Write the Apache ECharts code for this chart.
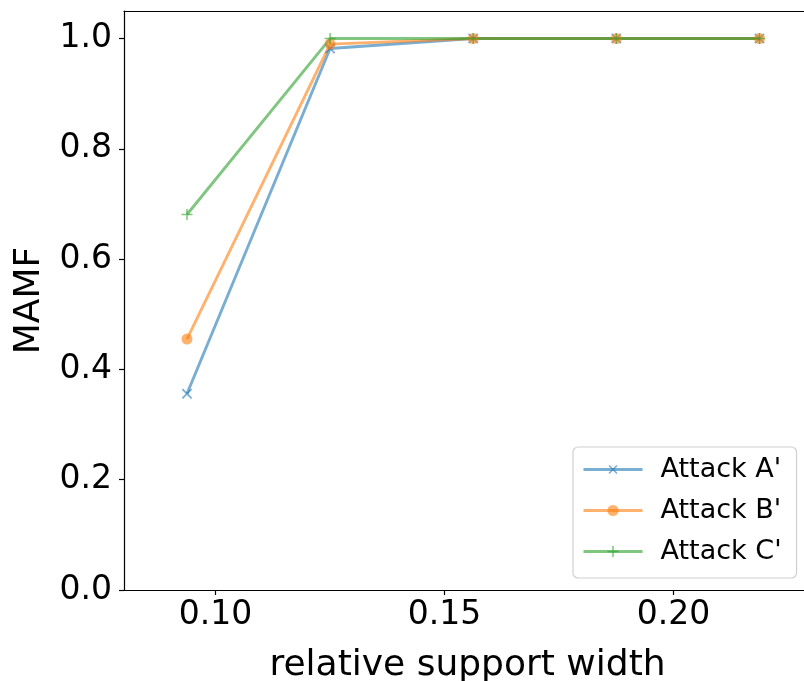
<!DOCTYPE html>
<html>
<head>
<meta charset="utf-8">
<script src="https://cdn.jsdelivr.net/npm/echarts@6/dist/echarts.min.js"></script>
<style>html,body{margin:0;padding:0;background:#fff;overflow:hidden;}#chart{width:804px;height:681px;}</style>
</head>
<body>
<div id="chart"></div>
<script>
// Data
const supportWidth = [0.09375, 0.125, 0.15625, 0.1875, 0.21875];
const attackA = [0.356, 0.982, 1.0, 1.0, 1.0];
const attackB = [0.455, 0.990, 1.0, 1.0, 1.0];
const attackC = [0.681, 1.0, 1.0, 1.0, 1.0];
const seriesNames = ["Attack A'", "Attack B'", "Attack C'"];
const xTicks = [0.10, 0.15, 0.20];
const yTicks = [0.0, 0.2, 0.4, 0.6, 0.8, 1.0];

const FONT = 'DejaVu Sans';
const colA = 'rgba(31,119,180,0.6)';
const colB = 'rgba(255,127,14,0.6)';
const colC = 'rgba(44,160,44,0.6)';
const plusPath = 'path://M4.3,0H5.7V4.3H10V5.7H5.7V10H4.3V5.7H0V4.3H4.3Z';

function pairs(ys) { return supportWidth.map((x, i) => [x, ys[i]]); }

function mkSeries(name, ys, color, symbol, size, rotate) {
  return {
    name: name, type: 'line', data: pairs(ys), xAxisIndex: 0,
    symbol: symbol, symbolSize: size, symbolRotate: rotate || 0,
    showAllSymbol: true,
    lineStyle: { color: color, width: 2.9 },
    itemStyle: { color: color, borderWidth: 0 },
    emphasis: { disabled: true },
    animation: false
  };
}

const chart = echarts.init(document.getElementById('chart'), null, { renderer: 'canvas' });
chart.setOption({
  backgroundColor: '#fff',
  animation: false,
  grid: { left: 124, top: 11, bottom: 91, width: 687, outerBoundsMode: 'none', containLabel: false, show: false },
  xAxis: [{
    type: 'value', min: 0.08, max: 0.23, position: 'bottom',
    name: 'relative support width', nameLocation: 'middle', nameGap: 58,
    nameTextStyle: { fontFamily: FONT, fontSize: 36, color: '#000', verticalAlign: 'top' },
    axisLine: { show: true, onZero: false, lineStyle: { color: '#000', width: 1.2 } },
    axisTick: { show: true, customValues: xTicks, length: 5, lineStyle: { color: '#000', width: 1.2 } },
    axisLabel: { customValues: xTicks, fontFamily: FONT, fontSize: 33, color: '#000', margin: 9,
      formatter: v => v.toFixed(2) },
    splitLine: { show: false }
  }, {
    type: 'value', min: 0.08, max: 0.23, position: 'top',
    axisLine: { show: true, onZero: false, lineStyle: { color: '#000', width: 1.2 } },
    axisTick: { show: false }, axisLabel: { show: false }, splitLine: { show: false }
  }],
  yAxis: {
    type: 'value', min: 0, max: 1.05,
    name: 'MAMF', nameLocation: 'middle', nameGap: 76,
    nameTextStyle: { fontFamily: FONT, fontSize: 36, color: '#000' },
    axisLine: { show: true, onZero: false, lineStyle: { color: '#000', width: 1.2 } },
    axisTick: { show: true, customValues: yTicks, length: 5, lineStyle: { color: '#000', width: 1.2 } },
    axisLabel: { customValues: yTicks, fontFamily: FONT, fontSize: 33, color: '#000', margin: 12,
      formatter: v => v.toFixed(1) },
    splitLine: { show: false }
  },
  legend: {
    orient: 'vertical', left: 573, top: 447,
    padding: [9, 15, 13, 9],
    itemWidth: 59, itemHeight: 14, itemGap: 14,
    backgroundColor: '#fff', borderColor: '#d0d0d0', borderWidth: 1.2, borderRadius: 5,
    lineStyle: { width: 3 },
    textStyle: { fontFamily: FONT, fontSize: 27, color: '#000', padding: [0, 0, 0, 13] },
    data: seriesNames
  },
  series: [
    mkSeries(seriesNames[0], attackA, colA, plusPath, 13, 45),
    mkSeries(seriesNames[1], attackB, colB, 'circle', 11),
    mkSeries(seriesNames[2], attackC, colC, plusPath, 11)
  ]
});
</script>
</body>
</html>
